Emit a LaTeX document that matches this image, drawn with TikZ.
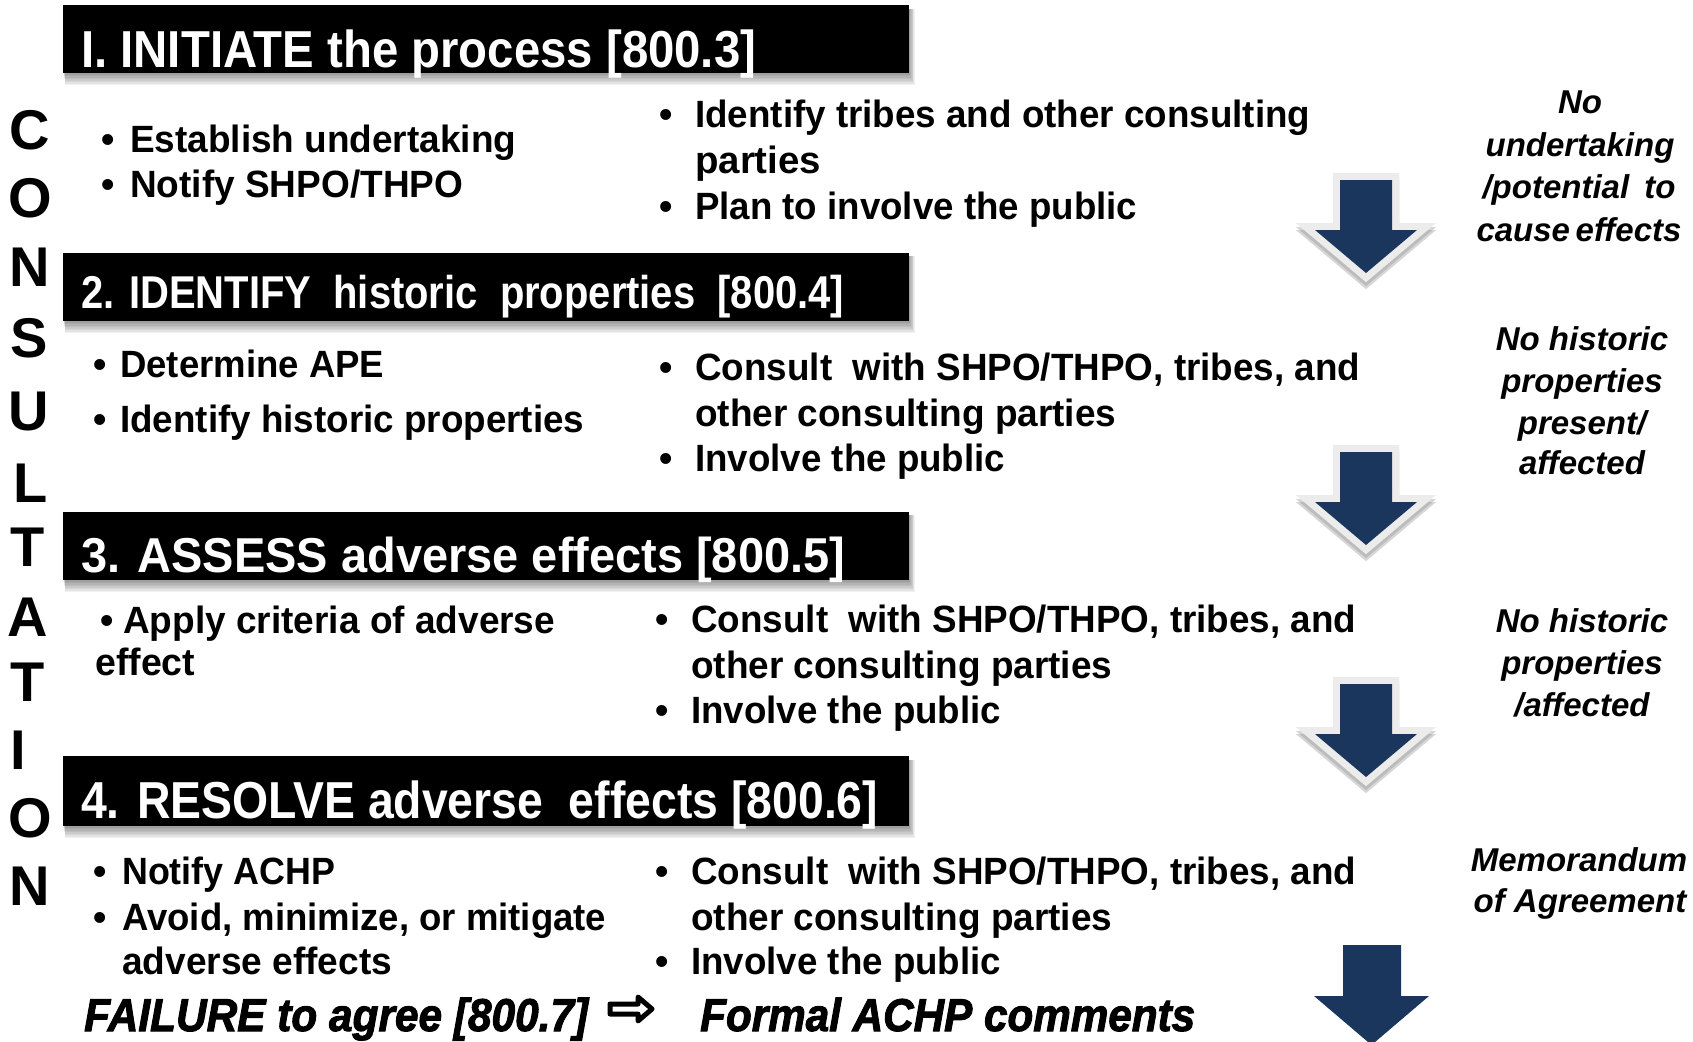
\documentclass[tikz,border=0pt]{standalone}
\usepackage{fontspec}
\usepackage{graphicx}
\setmainfont{Liberation Sans}
\newfontfamily\heavyfont[FakeBold=2.2]{Liberation Sans}
\definecolor{navy}{RGB}{26,54,93}
\definecolor{bord}{RGB}{236,236,236}
\newlength\fitlen
\newcommand\fitto[2]{\settowidth\fitlen{#2}\pgfmathsetmacro\fitsc{#1/\fitlen}\scalebox{\fitsc}[1]{#2}}
\begin{document}
\begin{tikzpicture}[x=1pt,y=-1pt,
 hdr/.style={fill=black, minimum width=846pt, minimum height=68pt, inner sep=0pt, outer sep=0pt},
 ht/.style={text=white, anchor=base west, inner sep=0pt},
 bt/.style={anchor=base west, inner sep=0pt, font=\fontsize{38}{38}\selectfont\bfseries},
 bul/.style={anchor=base, inner sep=0pt, font=\fontsize{38}{38}\selectfont\bfseries},
 nt/.style={anchor=base, inner sep=0pt, font=\fontsize{33}{33}\selectfont\bfseries\itshape},
 cl/.style={inner sep=0pt, font=\fontsize{56}{56}\selectfont\bfseries},
 ft/.style={anchor=base west, inner sep=0pt, font=\fontsize{46}{46}\selectfont\heavyfont\bfseries\itshape},
 navyarrow/.style={fill=navy},
]
\fill[white] (0,0) rectangle (1693,1041);
\useasboundingbox (0,0) rectangle (1693,1041);

% header bar shadows
\foreach \ya/\yb in {5/73, 252/321, 511/580, 756/826}{
  \foreach \k in {1,...,8}{
    \fill[black, opacity=0.055] (63+\k*0.3, \ya+4) rectangle (909+\k*0.7, \yb+\k*1.5);
  }
}
% header bars
\node[hdr] (bar1) at (486,39) {};
\node[hdr] (bar2) at (486,286.5) {};
\node[hdr] (bar3) at (486,545.5) {};
\node[hdr, minimum height=70pt] (bar4) at (486,791) {};

\node[ht, font=\fontsize{52}{52}\selectfont\bfseries] (h1) at (81,67) {\fitto{675pt}{I. INITIATE the process [800.3]}};
\node[ht, font=\fontsize{46}{46}\selectfont\bfseries] (h2) at (81,308) {\fitto{763pt}{2. IDENTIFY\ \ historic\ \ properties\ \ [800.4]}};
\node[ht, font=\fontsize{49}{49}\selectfont\bfseries] (h3) at (81,572) {\fitto{764pt}{3. ASSESS adverse effects [800.5]}};
\node[ht, font=\fontsize{52}{52}\selectfont\bfseries] (h4) at (81,818) {\fitto{797pt}{4. RESOLVE adverse\ \ effects [800.6]}};

% CONSULTATION
\foreach \L/\yy/\xx [count=\i] in {C/130/30, O/198/30, N/267/30, S/338/29, U/412/29, L/483/31, T/547/28, A/617/28, T/682/28, I/750/18, O/818/30, N/886/30}{
  \node[cl] (c\i) at (\xx,\yy) {\L};
}

% Section 1
\node[bul] (b11) at (108,152) {•};
\node[bt] (t11) at (130,152) {\fitto{386pt}{Establish undertaking}};
\node[bul] (b12) at (108,197) {•};
\node[bt] (t12) at (130,197) {\fitto{333pt}{Notify SHPO/THPO}};
\node[bul] (b13) at (666,127) {•};
\node[bt] (t13) at (695,127) {\fitto{615pt}{Identify tribes and other consulting}};
\node[bt] (t14) at (695,173) {\fitto{126pt}{parties}};
\node[bul] (b15) at (666,219) {•};
\node[bt] (t15) at (695,219) {\fitto{442pt}{Plan to involve the public}};

% Section 2
\node[bul] (b21) at (100,377) {•};
\node[bt] (t21) at (120,377) {\fitto{264pt}{Determine APE}};
\node[bul] (b22) at (100,432) {•};
\node[bt] (t22) at (120,432) {\fitto{464pt}{Identify historic properties}};
\node[bul] (b23) at (666,380) {•};
\node[bt] (t23) at (695,380) {\fitto{665pt}{Consult\ \ with SHPO/THPO, tribes, and}};
\node[bt] (t24) at (695,426) {\fitto{421pt}{other consulting parties}};
\node[bul] (b25) at (666,471) {•};
\node[bt] (t25) at (695,471) {\fitto{310pt}{Involve the public}};

% Section 3
\node[bul] (b31) at (107,633) {•};
\node[bt] (t31) at (123,633) {\fitto{432pt}{Apply criteria of adverse}};
\node[bt] (t32) at (95,675) {\fitto{100pt}{effect}};
\node[bul] (b33) at (662,632) {•};
\node[bt] (t33) at (691,632) {\fitto{665pt}{Consult\ \ with SHPO/THPO, tribes, and}};
\node[bt] (t34) at (691,678) {\fitto{421pt}{other consulting parties}};
\node[bul] (b35) at (662,723) {•};
\node[bt] (t35) at (691,723) {\fitto{310pt}{Involve the public}};

% Section 4
\node[bul] (b41) at (100,884) {•};
\node[bt] (t41) at (122,884) {\fitto{213pt}{Notify ACHP}};
\node[bul] (b42) at (100,930) {•};
\node[bt] (t42) at (122,930) {\fitto{484pt}{Avoid, minimize, or mitigate}};
\node[bt] (t43) at (122,974) {\fitto{270pt}{adverse effects}};
\node[bul] (b44) at (662,884) {•};
\node[bt] (t44) at (691,884) {\fitto{665pt}{Consult\ \ with SHPO/THPO, tribes, and}};
\node[bt] (t45) at (691,930) {\fitto{421pt}{other consulting parties}};
\node[bul] (b46) at (662,974) {•};
\node[bt] (t46) at (691,974) {\fitto{310pt}{Involve the public}};

% right notes
\node[nt] (n11) at (1580,113) {No};
\node[nt] (n12) at (1580,156) {undertaking};
\node[nt] (n13) at (1579,198) {\makebox[193pt][s]{/potential\hfill to}};
\node[nt] (n14) at (1579,241) {\makebox[205pt][s]{cause\hfill effects}};
\node[nt] (n21) at (1582,350) {No historic};
\node[nt] (n22) at (1582,392) {properties};
\node[nt] (n23) at (1582,434) {present/};
\node[nt] (n24) at (1582,474) {affected};
\node[nt] (n31) at (1582,632) {No historic};
\node[nt] (n32) at (1582,674) {properties};
\node[nt] (n33) at (1582,716) {/affected};
\node[nt] (n41) at (1579,871) {Memorandum};
\node[nt] (n42) at (1580,912) {of Agreement};

% arrows with border
\foreach \dy in {0,272,504}{
  \begin{scope}[shift={(0,\dy)}]
    \path[fill=black!45, draw=black!45, line width=14pt, line join=miter, opacity=0.35, shift={(0,7)}]
      (1340,180) -- (1392,180) -- (1392,230) -- (1417,230) -- (1366,273) -- (1315,230) -- (1340,230) -- cycle;
    \path[fill=black!45, draw=black!45, line width=14pt, line join=miter, opacity=0.35, shift={(0,4)}]
      (1340,180) -- (1392,180) -- (1392,230) -- (1417,230) -- (1366,273) -- (1315,230) -- (1340,230) -- cycle;
    \path[fill=bord, draw=bord, line width=14pt, line join=miter]
      (1340,180) -- (1392,180) -- (1392,230) -- (1417,230) -- (1366,273) -- (1315,230) -- (1340,230) -- cycle;
    \path[navyarrow]
      (1340,180) -- (1392,180) -- (1392,230) -- (1417,230) -- (1366,273) -- (1315,230) -- (1340,230) -- cycle;
  \end{scope}
}
% last arrow (plain)
\begin{scope}
  \clip (0,0) rectangle (1693,1041);
  \path[navyarrow] (1343,945) -- (1401,945) -- (1401,996) -- (1429,996) -- (1371.5,1045) -- (1314,996) -- (1343,996) -- cycle;
\end{scope}

% bottom line
\node[ft] (fail) at (84,1031) {\fitto{504pt}{FAILURE to agree [800.7]}};
\draw[line width=5pt, line join=round, fill=white]
  (610,1004) -- (638,1004) -- (638,997) -- (652,1009) -- (638,1021) -- (638,1014) -- (610,1014) -- cycle;
\node[ft] (formal) at (700,1031) {\fitto{495pt}{Formal ACHP comments}};
\end{tikzpicture}
\end{document}
